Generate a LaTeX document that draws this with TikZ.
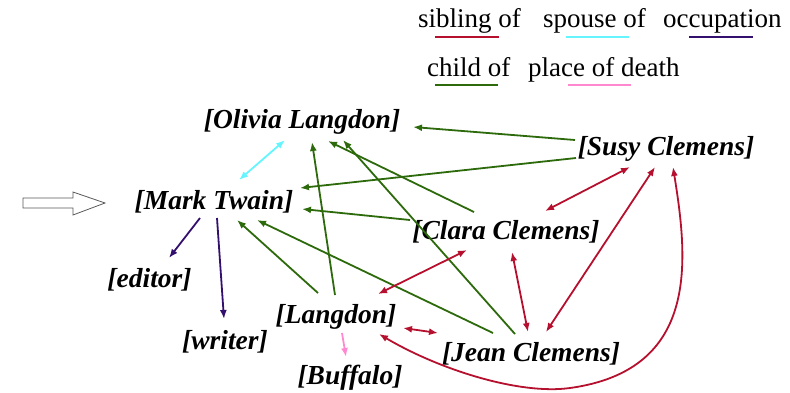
\documentclass[tikz,border=0pt]{standalone}
\usepackage{fontspec}
\setmainfont{Liberation Serif}
\usetikzlibrary{arrows.meta,calc}
\definecolor{sibred}{HTML}{B5102E}
\definecolor{spcyan}{HTML}{66F5FF}
\definecolor{occpur}{HTML}{34106E}
\definecolor{chgreen}{HTML}{2C6A0C}
\definecolor{dpink}{HTML}{FF88D0}
\tikzset{
  ent/.style={inner sep=0pt,font=\fontsize{27.5}{30}\selectfont\bfseries\itshape},
  leg/.style={inner sep=0pt,anchor=base west,font=\fontsize{27}{30}\selectfont},
  tip/.tip={Latex[length=9pt,width=7pt]},
  conn/.style={line width=1.8pt},
  sib/.style={conn,sibred,tip-tip},
  spo/.style={conn,spcyan,tip-tip},
  occ/.style={conn,occpur,-tip},
  chi/.style={conn,chgreen,-tip},
  pod/.style={conn,dpink,-tip},
  uline/.style={line width=2.2pt}
}
\begin{document}
\begin{tikzpicture}[x=1pt,y=-1pt]
\useasboundingbox (0,0) rectangle (790,392);
% legend
\node[leg] (l1) at (418,27) {sibling of};
\node[leg] (l2) at (543,27) {spouse of};
\node[leg] (l3) at (663,27) {occupation};
\node[leg] (l4) at (427,76) {child of};
\node[leg] (l5) at (528,76) {place of death};
\draw[uline,sibred] (435,37) -- (499,37);
\draw[uline,spcyan] (566,37) -- (629,37);
\draw[uline,occpur] (689,37) -- (753,37);
\draw[uline,chgreen] (435,85) -- (498,85);
\draw[uline,dpink] (568,85) -- (631,85);
% entities
\node[ent] (ol) at (302,121.5) {[Olivia Langdon]};
\node[ent] (mt) at (214,202) {[Mark Twain]};
\node[ent] (su) at (666,148.5) {[Susy Clemens]};
\node[ent] (cl) at (506,232) {[Clara Clemens]};
\node[ent] (ed) at (149.5,280) {[editor]};
\node[ent] (wr) at (225,341.5) {[writer]};
\node[ent] (la) at (336,316.5) {[Langdon]};
\node[ent] (bu) at (350,378) {[Buffalo]};
\node[ent] (je) at (531,353.5) {[Jean Clemens]};
% hollow pointer arrow
\draw[gray!70!black,line width=0.8pt,fill=white]
  (23,198) -- (73,198) -- (73,192) -- (105,203) -- (73,215) -- (73,208) -- (23,208) -- cycle;
% spouse
\draw[spo] ($(mt)+(25,-22)$) -- ($(ol)+(-17,18.5)$);
% child of
\draw[chi] ($(su)+(-91,-8.5)$) -- ($(ol)+(111,5.5)$);
\draw[chi] ($(su)+(-90,9.5)$) -- ($(mt)+(86,-14)$);
\draw[chi] ($(cl)+(-32,-20)$) -- ($(ol)+(26,19.5)$);
\draw[chi] ($(cl)+(-96,-12)$) -- ($(mt)+(88,7)$);
\draw[chi] ($(la)+(-1,-21.5)$) -- ($(ol)+(10,20.5)$);
\draw[chi] ($(la)+(-18,-23.5)$) -- ($(mt)+(23,18)$);
\draw[chi] ($(je)+(-38,-20.5)$) -- ($(mt)+(43,18)$);
\draw[chi] ($(je)+(-16,-19.5)$) -- ($(ol)+(41,18.5)$);
% occupation
\draw[occ] ($(mt)+(-14,16)$) -- ($(ed)+(19.5,-22)$);
\draw[occ] ($(mt)+(3,16)$) -- ($(wr)+(-1,-22.5)$);
% place of death
\draw[pod] ($(la)+(6,16.5)$) -- ($(bu)+(-4,-21)$);
% sibling of
\draw[sib] ($(su)+(-36,18.5)$) -- ($(cl)+(39,-21)$);
\draw[sib] ($(su)+(-11,18.5)$) -- ($(je)+(15,-21.5)$);
\draw[sib] ($(cl)+(-39,18)$) -- ($(la)+(42,-22.5)$);
\draw[sib] ($(cl)+(6,20)$) -- ($(je)+(-3,-21.5)$);
\draw[sib] ($(la)+(67,11.5)$) -- ($(je)+(-93,-20.5)$);
\draw[sib] ($(su)+(7,18.5)$) .. controls (688,260) and (700,370) .. (570,388)
  .. controls (520,395) and (440,370) .. ($(la)+(43,17.5)$);
\end{tikzpicture}
\end{document}
